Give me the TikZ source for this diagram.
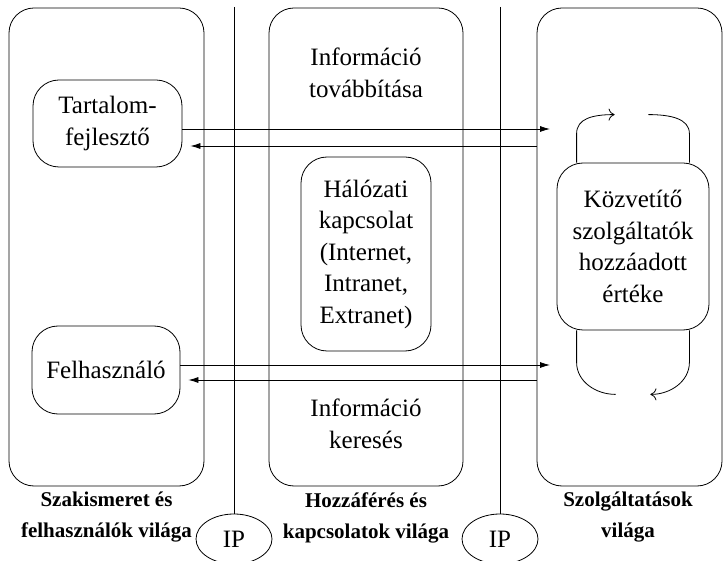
\documentclass[tikz,border=0pt]{standalone}
\usepackage{fontspec}
\setmainfont{Liberation Serif}
\usetikzlibrary{arrows.meta,shapes.geometric}

\begin{document}
\begin{tikzpicture}[x=1pt,y=1pt,line width=0.8pt,
    vilag/.style={draw, rounded corners=25pt, minimum width=#1, minimum height=478pt, inner sep=0pt},
    doboz/.style={draw, rounded corners=26pt, align=center, inner sep=0pt, font=\fontsize{25}{31.5}\selectfont},
    szoveg/.style={align=center, font=\fontsize{25}{31.5}\selectfont},
    cimke/.style={align=center, font=\fontsize{21}{31}\selectfont\bfseries},
    ip/.style={draw, ellipse, minimum width=76pt, minimum height=50pt, inner sep=0pt, font=\fontsize{25}{31.5}\selectfont},
    nyil/.style={-{Latex[length=10pt,width=6pt]}},
    hurok/.style={-{To[length=6pt,width=12pt]}}]
    \useasboundingbox (0,0) rectangle (728,560);

    % a három világ
    \node[vilag=195pt] (bal) at (106.5,313) {};
    \node[vilag=194pt] (kozep) at (366,313) {};
    \node[vilag=185pt] (jobb) at (629.5,313) {};

    % szereplők
    \node[doboz, minimum width=149pt, minimum height=87pt] (tart) at (107.5,436.5) {Tartalom-\\fejlesztő};
    \node[doboz, minimum width=148pt, minimum height=88pt] (felh) at (106,190) {Felhasználó};
    \node[doboz, minimum width=130pt, minimum height=194pt] (halo) at (366,306) {Hálózati\\kapcsolat\\(Internet,\\Intranet,\\Extranet)};
    \node[doboz, minimum width=152pt, minimum height=167pt] (kozv) at (633,313.5) {Közvetítő\\szolgáltatók\\hozzáadott\\értéke};

    \node[szoveg] (tovabb) at (366,487) {Információ\\továbbítása};
    \node[szoveg] (keres) at (366,136) {Információ\\keresés};

    % IP határok
    \node[ip] (ip1) at (234,21) {IP};
    \node[ip] (ip2) at (500,21) {IP};
    \coordinate (fent1) at (234,553);
    \coordinate (fent2) at (500,553);
    \draw (fent1) -- (ip1);
    \draw (fent2) -- (ip2);

    % információáramlás
    \coordinate (tki) at (550,431);
    \coordinate (fki) at (550,195);
    \draw[nyil] (tart.east |- tki) -- (tki);
    \draw[nyil, shorten >=8pt] (jobb.west |- 0,414) -- (tart.east |- 0,414);
    \draw[nyil] (felh.east |- fki) -- (fki);
    \draw[nyil, shorten >=8pt] (jobb.west |- 0,180) -- (felh.east |- 0,180);

    % hurkok a közvetítő körül
    \draw[hurok] ([xshift=20pt]kozv.north west) -- ++(0,29) .. controls +(0,15) and +(-22,0) .. ++(38,19);
    \draw ([xshift=-20pt]kozv.north east) -- ++(0,29) .. controls +(0,15) and +(22,0) .. ++(-41,19);
    \draw ([xshift=20pt]kozv.south west) -- ++(0,-32) .. controls +(0,-19) and +(-20,0) .. ++(39,-32);
    \draw[hurok] ([xshift=-20pt]kozv.south east) -- ++(0,-32) .. controls +(0,-19) and +(20,0) .. ++(-39,-32);

    % feliratok
    \node[cimke] (c1) at (106.5,42.5) {Szakismeret és\\felhasználók világa};
    \node[cimke] (c2) at (366,42.5) {Hozzáférés és\\kapcsolatok világa};
    \node[cimke] (c3) at (628,42.5) {Szolgáltatások\\világa};
\end{tikzpicture}
\end{document}
